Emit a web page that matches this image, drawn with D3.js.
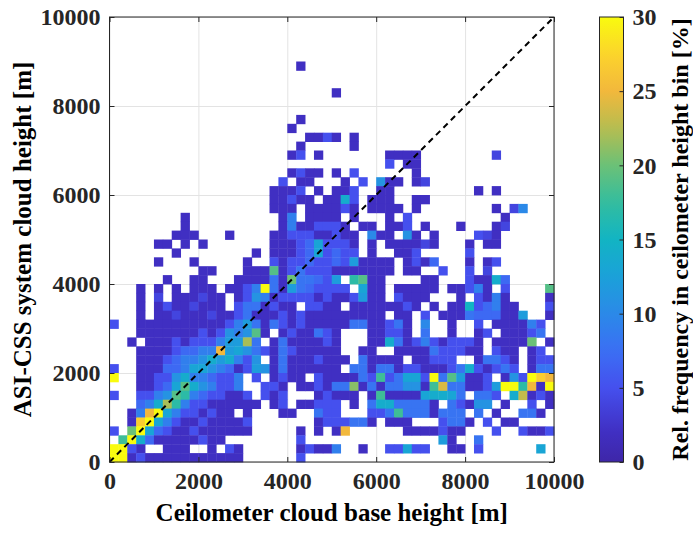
<!DOCTYPE html>
<html>
<head>
<meta charset="utf-8">
<script src="https://cdn.jsdelivr.net/npm/d3@7"></script>
<style>
    body { margin: 0; background: #fff; }
    svg text { font-family: 'Liberation Serif', 'Times New Roman', serif; font-weight: bold; }
</style>
</head>
<body>
<svg id="chart" width="693" height="534"></svg>
<script>
// DATA
const xTicks = [0, 2000, 4000, 6000, 8000, 10000];
const yTicks = [0, 2000, 4000, 6000, 8000, 10000];
const colorTicks = [0, 5, 10, 15, 20, 25, 30];
const binSize = 200;
// one char per 200 m bin, '.' = empty, '1'..'u' = 1..30 %
const levelKey = '123456789abcdefghijklmnopqrstu';
// rows from top (9800-10000 m) down to bottom (0-200 m), 50 columns each
const heightRows = [
    '..................................................',
    '..................................................',
    '..................................................',
    '..................................................',
    '..................................................',
    '.....................2............................',
    '..................................................',
    '..................................................',
    '.........................2........................',
    '..................................................',
    '..................................................',
    '.....................2............................',
    '....................2.............................',
    '......................2252.2......................',
    '.....................2.....2......................',
    '....................25.2.......2222........4......',
    '...............................5.22...............',
    '....................2522.2.5......2...............',
    '...................5.22...2.5.b22.24...............',
    '..................2225.2.225..22.........2.2......',
    '..................22522.22e5.222..22..............',
    '..................222.222252.2222.2........2.4a...',
    '........2..........29.2222.2...2.5..........2......',
    '........2..........29225552.22.225.2...2...24......',
    '.......222...2....2255522522.a22.b2.2....542......',
    '.....22.2.2.......22257d5552.2.222242...2.22......',
    '.......2........2.22257d5755.2..225.....5.........',
    '.....2...2.....2..525575575c2222.2527...2.25......',
    '..........22...222j2585552222222.22..5..5.4.......',
    '......2..22...222282k8875c.hj22....22...522e7.....',
    '...2.2.2.222.2259u82c875555.d22.22222.22592.5....j',
    '...2.4.222422.25b92555525225c22.5222...2.5292....2',
    '...2.25224222.5882522.5522.22222252.2.22f57922...5',
    '...2.22422242258222525222222222.22.5.222877722c..2',
    '5..222222222259c828525222228822582.a..2..5.222295.',
    '...2222222525b9bj2.2522852...22552.8..2..25.22258.',
    '..2.222525559ccm8.28222252...22e8259525552.2222k.2',
    '...222257799pcdb8528522222..22..2222855522.522.25.',
    '...2225799bece95b.282225222.82222.22555..28852.255',
    '5..222779ddb9725cb28222222.8828825522258e52585.288',
    'u..2255be997559.5.2522.5222285i58dd5u8jc225.2b5urp',
    '...2257djeb9559..552.225288l28288bb2io88225cuuhp2u',
    '5..559bjh9755225.525...25222.2i2222deed8.885.en252',
    '...79emh955222222.25.22555.2.8ee88882.852bb.2..5.2',
    '..29pud9552522.2...22..855...558i8882888.8.2..882.',
    '..2rud9522522225.......2555882.222...5882.5.22....',
    '5.kud75225222222.....2.2.2p......2222522...5..5225',
    '.iue722222522........5...............c2..8........',
    'uu52..222..2.52......25229..2..55d55..22.5......d.',
    'uu2522222222222......5............................'
];

class HeightHistogram {
    constructor(parentElement) {
        this.parentElement = parentElement;
        this.initVis();
    }

    initVis() {
        let vis = this;

        vis.svg = d3.select(vis.parentElement);

        // MARGINS
        vis.margin = { top: 17, right: 139, bottom: 72, left: 109.5 };
        vis.width = +vis.svg.attr('width') - vis.margin.left - vis.margin.right;
        vis.height = +vis.svg.attr('height') - vis.margin.top - vis.margin.bottom;

        vis.g = vis.svg
            .append('g')
            .attr('transform', 'translate(' + vis.margin.left + ',' + vis.margin.top + ')');

        // SCALES
        vis.x = d3.scaleLinear().domain([0, 10000]).range([0, vis.width]);
        vis.y = d3.scaleLinear().domain([0, 10000]).range([vis.height, 0]);

        // parula-like colormap, 0..30 %
        vis.color = d3
            .scaleLinear()
            .domain([0, 2, 5, 7.5, 10, 12.5, 15, 17.5, 20, 22.5, 25, 27.5, 30])
            .range(['#3e26a8', '#402fc2', '#4550ee', '#3b6ff4', '#2b89e8', '#1ba1d9', '#12b4c3',
                '#33bd9f', '#6bc177', '#b6bd50', '#f2b83c', '#fcd42c', '#f9fb0e'])
            .clamp(true);

        vis.wrangleData();
    }

    wrangleData() {
        let vis = this;
        let nRows = heightRows.length;

        vis.cells = [];
        heightRows.forEach((row, i) => {
            row.padEnd(50, '.').slice(0, 50).split('').forEach((ch, j) => {
                if (ch === '.') return;
                vis.cells.push({
                    x: j * binSize,
                    y: (nRows - 1 - i) * binSize,
                    value: levelKey.indexOf(ch) + 1
                });
            });
        });

        vis.updateVis();
    }

    updateVis() {
        let vis = this;
        let fmt = d3.format('d');

        // GRID
        vis.g.append('g')
            .attr('class', 'grid')
            .attr('transform', `translate(0, ${vis.height})`)
            .call(d3.axisBottom(vis.x).tickValues(xTicks).tickSize(-vis.height).tickFormat(''));
        vis.g.append('g')
            .attr('class', 'grid')
            .call(d3.axisLeft(vis.y).tickValues(yTicks).tickSize(-vis.width).tickFormat(''));
        vis.g.selectAll('.grid line').attr('stroke', '#e3e3e3').attr('stroke-width', 1);
        vis.g.selectAll('.grid .domain').remove();

        // CELLS
        let cw = vis.x(binSize) - vis.x(0);
        let ch = vis.y(0) - vis.y(binSize);
        vis.g.selectAll('rect.cell')
            .data(vis.cells)
            .enter()
            .append('rect')
            .attr('class', 'cell')
            .attr('x', d => vis.x(d.x))
            .attr('y', d => vis.y(d.y + binSize))
            .attr('width', cw + 0.4)
            .attr('height', ch + 0.4)
            .attr('fill', d => vis.color(d.value));

        // 1:1 LINE
        vis.g.append('line')
            .attr('x1', vis.x(0))
            .attr('y1', vis.y(0))
            .attr('x2', vis.x(10000))
            .attr('y2', vis.y(10000))
            .attr('stroke', '#000')
            .attr('stroke-width', 2)
            .attr('stroke-dasharray', '6,4.5');

        // AXES (ticks inside, like matlab)
        let tick = 5;
        vis.xAxis = vis.g.append('g')
            .attr('class', 'axis')
            .attr('transform', `translate(0, ${vis.height})`)
            .call(d3.axisBottom(vis.x).tickValues(xTicks).tickSize(-tick).tickPadding(10).tickFormat(fmt));
        vis.yAxis = vis.g.append('g')
            .attr('class', 'axis')
            .call(d3.axisLeft(vis.y).tickValues(yTicks).tickSize(-tick).tickPadding(9).tickFormat(fmt));
        vis.g.append('g')
            .attr('class', 'axis')
            .call(d3.axisTop(vis.x).tickValues(xTicks).tickSize(-tick).tickFormat(''));
        vis.g.append('g')
            .attr('class', 'axis')
            .attr('transform', `translate(${vis.width}, 0)`)
            .call(d3.axisRight(vis.y).tickValues(yTicks).tickSize(-tick).tickFormat(''));

        vis.g.selectAll('.axis .domain').remove();
        vis.g.selectAll('.axis line').attr('stroke', '#262626');
        vis.g.selectAll('.axis text')
            .attr('fill', '#262626')
            .style('font-size', '24px');

        // BOX
        vis.g.append('rect')
            .attr('width', vis.width)
            .attr('height', vis.height)
            .attr('fill', 'none')
            .attr('stroke', '#262626')
            .attr('stroke-width', 1);

        // LABELS
        vis.g.append('text')
            .attr('x', vis.width / 2)
            .attr('y', vis.height + 59)
            .attr('text-anchor', 'middle')
            .style('font-size', '25px')
            .text('Ceilometer cloud base height [m]');

        vis.g.append('text')
            .attr('transform', `translate(${31 - vis.margin.left}, ${vis.height / 2}) rotate(-90)`)
            .attr('text-anchor', 'middle')
            .style('font-size', '25px')
            .text('ASI-CSS system cloud height [m]');

        vis.drawColorbar();
    }

    drawColorbar() {
        let vis = this;

        let cbX = 599.5, cbW = 24;
        vis.cb = vis.svg.append('g')
            .attr('transform', `translate(${cbX}, ${vis.margin.top})`);

        vis.cbScale = d3.scaleLinear().domain([0, 30]).range([vis.height, 0]);

        let grad = vis.svg.append('defs')
            .append('linearGradient')
            .attr('id', 'parula')
            .attr('x1', 0).attr('y1', 1)
            .attr('x2', 0).attr('y2', 0);
        grad.selectAll('stop')
            .data(d3.range(0, 30.01, 1))
            .enter()
            .append('stop')
            .attr('offset', d => d / 30)
            .attr('stop-color', d => vis.color(d));

        vis.cb.append('rect')
            .attr('width', cbW)
            .attr('height', vis.height)
            .attr('fill', 'url(#parula)')
            .attr('stroke', '#262626')
            .attr('stroke-width', 1);

        let cbAxis = vis.cb.append('g')
            .attr('class', 'cb-axis')
            .attr('transform', `translate(${cbW}, 0)`)
            .call(d3.axisRight(vis.cbScale).tickValues(colorTicks).tickSize(-4).tickPadding(9));
        cbAxis.select('.domain').remove();
        cbAxis.selectAll('line').attr('stroke', '#262626');
        cbAxis.selectAll('text')
            .attr('fill', '#262626')
            .style('font-size', '24px');

        vis.svg.append('text')
            .attr('transform', `translate(688, ${vis.margin.top + vis.height / 2}) rotate(-90)`)
            .attr('text-anchor', 'middle')
            .style('font-size', '24px')
            .text('Rel. frequency in ceilometer height bin [%]');
    }
}

new HeightHistogram('#chart');
</script>
</body>
</html>
